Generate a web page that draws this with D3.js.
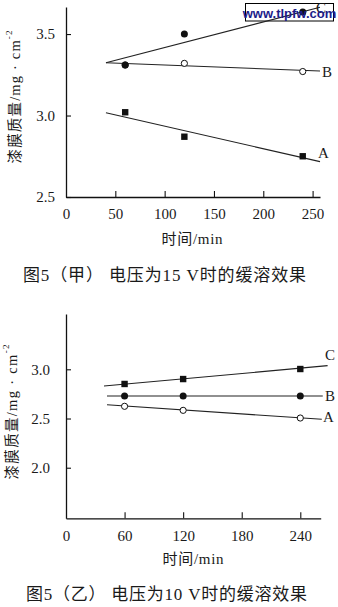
<!DOCTYPE html>
<html>
<head>
<meta charset="utf-8">
<script src="https://cdn.jsdelivr.net/npm/d3@7"></script>
<style>
  html, body { margin: 0; padding: 0; background: #fff; }
  svg { display: block; }
  text { fill: #1a1a1a; }
</style>
</head>
<body>
<svg id="fig" width="338" height="607"></svg>
<script>
// ---- Figure 5 (甲): 15 V ----
const times15 = [60, 120, 240];
const seriesA15 = [3.02, 2.87, 2.75];   // filled squares
const seriesB15 = [3.31, 3.32, 3.27];   // open circles
const seriesC15 = [3.31, 3.50, 3.635];  // filled circles
const fitA15 = [[40.5, 3.017], [257.5, 2.717]];
const fitB15 = [[40.5, 3.324], [257.5, 3.273]];
const fitC15 = [[40.5, 3.324], [257.5, 3.664]];
const xTicks15 = [0, 50, 100, 150, 200, 250];
const yTicks15 = [2.5, 3.0, 3.5];

// ---- Figure 5 (乙): 10 V ----
const times10 = [60, 120, 240];
const seriesA10 = [2.624, 2.583, 2.505]; // open circles
const seriesB10 = [2.729, 2.729, 2.729]; // filled circles
const seriesC10 = [2.851, 2.901, 3.003]; // filled squares
const fitA10 = [[42, 2.640], [262, 2.492]];
const fitB10 = [[42, 2.729], [263, 2.729]];
const fitC10 = [[38.9, 2.830], [268, 3.037]];
const xTicks10 = [0, 60, 120, 180, 240];
const yTicks10 = [2.0, 2.5, 3.0];

const seriesLabels = ["A", "B", "C"];
const yTitle = "漆膜质量/mg · cm";
const yTitleSup = "-2";
const xTitle = "时间/min";
const caption15 = "图5（甲）  电压为15 V时的缓溶效果";
const caption10 = "图5（乙）  电压为10 V时的缓溶效果";

const svg = d3.select("#fig");
const serif = "'Liberation Serif', 'Times New Roman', serif";
const mixed = "'Liberation Serif', 'Noto Sans CJK SC', serif";

// watermark box sits beneath the top chart's marks
svg.append("rect")
  .attr("x", 245.5).attr("y", 3.5).attr("width", 88).attr("height", 17.5)
  .attr("fill", "#fff").attr("stroke", "#000").attr("stroke-width", 1);

function drawPanel(cfg) {
  const g = svg.append("g");
  const x = d3.scaleLinear().domain(cfg.xDomain).range(cfg.xRange);
  const y = d3.scaleLinear().domain(cfg.yDomain).range(cfg.yRange);

  // axes with inward ticks
  const xAxis = d3.axisBottom(x).tickValues(cfg.xTicks).tickSizeInner(-6)
    .tickSizeOuter(0).tickPadding(cfg.xPad).tickFormat(d3.format("d"));
  const yAxis = d3.axisLeft(y).tickValues(cfg.yTicks).tickSizeInner(-5)
    .tickSizeOuter(0).tickPadding(cfg.yPad).tickFormat(d3.format(".1f"));

  const gx = g.append("g").attr("transform", `translate(0,${cfg.yRange[0]})`).call(xAxis);
  const gy = g.append("g").attr("transform", `translate(${cfg.xRange[0]},0)`).call(yAxis);
  [gx, gy].forEach(a => {
    a.select(".domain").attr("stroke", "#111").attr("stroke-width", 1.3);
    a.selectAll(".tick line").attr("stroke", "#111").attr("stroke-width", 1.1);
    a.selectAll(".tick text").attr("font-family", serif).attr("font-size", 15)
      .attr("fill", "#1a1a1a");
  });
  gx.selectAll(".tick").filter(d => d === 0).select("line").remove();

  const line = d3.line().x(d => x(d[0])).y(d => y(d[1]));
  cfg.fits.forEach(f => {
    g.append("path").datum(f).attr("d", line)
      .attr("fill", "none").attr("stroke", "#222").attr("stroke-width", 1.1);
  });

  // markers
  cfg.series.forEach(s => {
    s.values.forEach((v, i) => {
      const cx = x(cfg.times[i]), cy = y(v);
      if (s.shape === "square") {
        g.append("rect").attr("x", cx - 3.2).attr("y", cy - 3.2)
          .attr("width", 6.4).attr("height", 6.4).attr("fill", "#111");
      } else if (s.shape === "open") {
        g.append("circle").attr("cx", cx).attr("cy", cy).attr("r", 3.1)
          .attr("fill", "#fff").attr("stroke", "#111").attr("stroke-width", 1);
      } else {
        g.append("circle").attr("cx", cx).attr("cy", cy).attr("r", 3.5)
          .attr("fill", "#111");
      }
    });
  });

  // series letters
  cfg.labels.forEach(l => {
    g.append("text").attr("x", l.x).attr("y", l.y)
      .attr("font-family", serif).attr("font-size", 15)
      .attr("dominant-baseline", "central").text(l.text);
  });

  // y title
  const yt = g.append("text")
    .attr("transform", `translate(${cfg.yTitleX},${cfg.yTitleY}) rotate(-90)`)
    .attr("text-anchor", "middle").attr("dominant-baseline", "central")
    .attr("font-family", mixed).attr("font-size", 14.5)
    .attr("textLength", cfg.yTitleLen).attr("lengthAdjust", "spacing");
  yt.append("tspan").text(yTitle);
  yt.append("tspan").attr("font-size", 9).attr("dy", -6).text(yTitleSup);

  // x title
  g.append("text").attr("x", cfg.xTitleX).attr("y", cfg.xTitleY)
    .attr("text-anchor", "middle").attr("dominant-baseline", "central")
    .attr("font-family", mixed).attr("font-size", 15)
    .attr("textLength", 61).attr("lengthAdjust", "spacing").text(xTitle);

  // caption
  g.append("text").attr("x", cfg.capX).attr("y", cfg.capY)
    .attr("dominant-baseline", "central")
    .attr("font-family", mixed).attr("font-size", 17)
    .attr("textLength", cfg.capLen).attr("lengthAdjust", "spacing")
    .text(cfg.caption);
}

drawPanel({
  xDomain: [0, 257.5], xRange: [66, 320],
  yDomain: [2.5, 3.666], yRange: [197, 7],
  xTicks: xTicks15, yTicks: yTicks15, xPad: 11, yPad: 11,
  times: times15,
  fits: [fitA15, fitB15, fitC15],
  series: [
    { values: seriesA15, shape: "square" },
    { values: seriesB15, shape: "open" },
    { values: seriesC15, shape: "filled" }
  ],
  labels: [
    { text: seriesLabels[0], x: 318, y: 153 },
    { text: seriesLabels[1], x: 322, y: 72 },
    { text: seriesLabels[2], x: 316, y: 8 }
  ],
  yTitleX: 15, yTitleY: 97, yTitleLen: 133,
  xTitleX: 192, xTitleY: 239,
  caption: caption15, capX: 23, capY: 275, capLen: 283
});

drawPanel({
  xDomain: [0, 260.9], xRange: [66, 320.7],
  yDomain: [1.486, 3.562], yRange: [518.3, 314],
  xTicks: xTicks10, yTicks: yTicks10, xPad: 12, yPad: 16,
  times: times10,
  fits: [fitA10, fitB10, fitC10],
  series: [
    { values: seriesA10, shape: "open" },
    { values: seriesB10, shape: "filled" },
    { values: seriesC10, shape: "square" }
  ],
  labels: [
    { text: seriesLabels[0], x: 323, y: 417 },
    { text: seriesLabels[1], x: 325, y: 396 },
    { text: seriesLabels[2], x: 325, y: 355 }
  ],
  yTitleX: 12, yTitleY: 412, yTitleLen: 135,
  xTitleX: 193, xTitleY: 559,
  caption: caption10, capX: 26, capY: 594, capLen: 281
});

// watermark lettering on top
svg.append("text").attr("x", 289.5).attr("y", 13)
  .attr("text-anchor", "middle").attr("dominant-baseline", "central")
  .attr("font-family", "'Liberation Sans', Arial, sans-serif")
  .attr("font-weight", "bold").attr("font-size", 13)
  .style("fill", "#1c1c8a").text("www.tlpfw.com");
</script>
</body>
</html>
